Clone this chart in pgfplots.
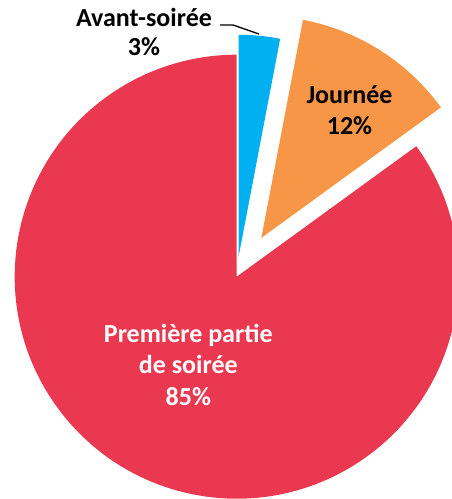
\documentclass[border=0pt]{standalone}
\usepackage{pgfplots}
\pgfplotsset{compat=1.18}
\usepackage{fontspec}
\setmainfont{Carlito}
\definecolor{cred}{RGB}{233,56,79}
\definecolor{cblue}{RGB}{0,176,240}
\definecolor{corange}{RGB}{247,150,70}
% data (percent): Avant-soiree 3, Journee 12, Premiere partie de soiree 85
\def\vA{3}
\def\vB{12}
\def\vC{85}
\pgfmathsetmacro{\angA}{90}
\pgfmathsetmacro{\angB}{90-\vA*3.6}
\pgfmathsetmacro{\angC}{\angB-\vB*3.6}
\pgfmathsetmacro{\angD}{\angC-\vC*3.6}
\pgfmathsetmacro{\midA}{(\angA+\angB)/2}
\pgfmathsetmacro{\midB}{(\angB+\angC)/2}
\def\R{222pt}
\begin{document}
\begin{tikzpicture}
\begin{axis}[x=1pt,y=1pt,xmin=0,xmax=452,ymin=0,ymax=499,hide axis,scale only axis,clip=false,enlargelimits=false]
\fill[cred] (axis cs:236.7,222.3) -- ++(\angC:\R) arc[start angle=\angC,end angle=\angD,radius=\R] -- cycle;
\fill[cblue] (axis cs:236.7,222.3) ++(\midA:20pt) -- ++(\angA:\R) arc[start angle=\angA,end angle=\angB,radius=\R] -- cycle;
\fill[corange] (axis cs:236.7,222.3) ++(\midB:46pt) -- ++(\angB:\R) arc[start angle=\angB,end angle=\angC,radius=\R] -- cycle;
\draw[black,line width=1.3pt] (axis cs:220,474) -- (axis cs:233,474) -- (axis cs:259,465);
\node[align=center,font=\bfseries\fontsize{26}{29}\selectfont,text=black,inner sep=0pt] at (axis cs:144,467) {Avant-soirée\\3\%};
\node[align=center,font=\bfseries\fontsize{26}{31.5}\selectfont,text=black,inner sep=0pt] at (axis cs:349.5,389) {Journée\\12\%};
\node[align=center,font=\bfseries\fontsize{26}{31.5}\selectfont,text=white,inner sep=0pt] at (axis cs:188.3,134.5) {Première partie\\de soirée\\85\%};
\end{axis}
\pgfresetboundingbox
\path[use as bounding box] (current axis.south west) rectangle (current axis.north east);
\end{tikzpicture}
\end{document}
